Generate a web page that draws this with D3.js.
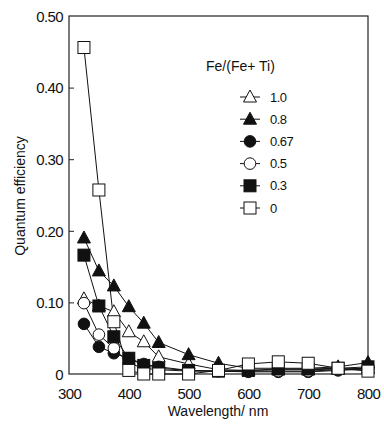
<!DOCTYPE html>
<html>
<head>
<meta charset="utf-8">
<script src="https://cdn.jsdelivr.net/npm/d3@7"></script>
<style>
  body { margin: 0; background: #fff; }
  text { font-family: "Liberation Sans", Arial, sans-serif; fill: #111; }
</style>
</head>
<body>
<script>
// wavelengths (nm)
var wavelengths = [325, 350, 375, 400, 425, 450, 500, 550, 600, 650, 700, 750, 800];

// quantum efficiency per Fe/(Fe+Ti) ratio
var qe10  = [0.105, 0.095, 0.087, 0.059, 0.045, 0.024, 0.014, 0.006, 0.005, 0.006, 0.006, 0.007, 0.008];
var qe08  = [0.190, 0.144, 0.123, 0.094, 0.071, 0.044, 0.027, 0.015, 0.008, 0.008, 0.008, 0.010, 0.016];
var qe067 = [0.070, 0.038, 0.029, 0.022, 0.014, 0.010, 0.005, 0.004, 0.003, 0.003, 0.003, 0.005, 0.007];
var qe05  = [0.099, 0.055, 0.036, 0.015, 0.008, 0.006, 0.004, 0.004, 0.004, 0.004, 0.004, 0.006, 0.008];
var qe03  = [0.166, 0.095, 0.052, 0.022, 0.012, 0.008, 0.005, 0.004, 0.005, 0.007, 0.007, 0.008, 0.010];
var qe0   = [0.456, 0.257, 0.073, 0.005, 0.000, 0.000, 0.000, 0.005, 0.014, 0.017, 0.015, 0.008, 0.004];

var seriesNames = ["1.0", "0.8", "0.67", "0.5", "0.3", "0"];
var seriesValues = [qe10, qe08, qe067, qe05, qe03, qe0];
var seriesShapes = ["triangle", "triangle", "circle", "circle", "square", "square"];
var seriesFilled = [false, true, true, false, true, false];

var yTicks = [0, 0.10, 0.20, 0.30, 0.40, 0.50];
var xTicks = [300, 400, 500, 600, 700, 800];

var svg = d3.select("body")
  .append("svg")
    .attr("width", 384)
    .attr("height", 427);

var plotLeft = 69, plotRight = 368, plotTop = 16, plotBottom = 374;

var x = d3.scaleLinear().domain([300, 800]).range([plotLeft, plotRight]);
var y = d3.scaleLinear().domain([0, 0.5]).range([plotBottom, plotTop]);

// frame
svg.append("rect")
  .attr("x", plotLeft).attr("y", plotTop)
  .attr("width", plotRight - plotLeft).attr("height", plotBottom - plotTop)
  .attr("fill", "none").attr("stroke", "#222").attr("stroke-width", 1.2);

// y axis (ticks pointing inward)
var yAxis = svg.append("g")
  .attr("transform", "translate(" + plotLeft + ",0)")
  .call(d3.axisLeft(y).tickValues(yTicks).tickSize(-5).tickPadding(12)
    .tickFormat(function(d) { return d === 0 ? "0" : d3.format(".2f")(d); }));
yAxis.select(".domain").remove();
yAxis.selectAll(".tick line").attr("stroke", "#222");
yAxis.selectAll(".tick text")
  .attr("x", -6)
  .style("font-size", "15px").style("letter-spacing", "-0.6px")
  .attr("dy", "0.35em");
yAxis.selectAll(".tick").filter(function(d) { return d === 0 || d === 0.5; })
  .select("line").remove();

// x axis
var xAxis = svg.append("g")
  .attr("transform", "translate(0," + plotBottom + ")")
  .call(d3.axisBottom(x).tickValues(xTicks).tickSize(0).tickPadding(14));
xAxis.select(".domain").remove();
xAxis.selectAll(".tick text")
  .style("font-size", "15px").style("letter-spacing", "-0.6px")
  .attr("dy", "0.71em");

// axis titles
svg.append("text")
  .attr("x", 218).attr("y", 416)
  .attr("text-anchor", "middle")
  .style("font-size", "14px")
  .text("Wavelength/ nm");

svg.append("text")
  .attr("transform", "translate(25,196) rotate(-90)")
  .attr("text-anchor", "middle")
  .style("font-size", "14px")
  .text("Quantum efficiency");

function drawMarker(g, shape, filled, cx, cy) {
  var fill = filled ? "#111" : "#fff";
  if (shape === "square") {
    g.append("rect")
      .attr("x", cx - 6).attr("y", cy - 6)
      .attr("width", 12).attr("height", 12)
      .attr("fill", fill).attr("stroke", "#111").attr("stroke-width", 1);
  } else if (shape === "circle") {
    g.append("circle")
      .attr("cx", cx).attr("cy", cy).attr("r", 5.8)
      .attr("fill", fill).attr("stroke", "#111").attr("stroke-width", 1);
  } else {
    g.append("path")
      .attr("d", "M" + cx + "," + (cy - 7) + "L" + (cx + 6.5) + "," + (cy + 5) + "L" + (cx - 6.5) + "," + (cy + 5) + "Z")
      .attr("fill", fill).attr("stroke", "#111").attr("stroke-width", 1);
  }
}

var line = d3.line()
  .x(function(d) { return x(d[0]); })
  .y(function(d) { return y(d[1]); });

// lines first, then markers
seriesValues.forEach(function(vals) {
  var pts = wavelengths.map(function(w, i) { return [w, vals[i]]; });
  svg.append("path")
    .attr("d", line(pts))
    .attr("fill", "none").attr("stroke", "#111").attr("stroke-width", 1);
});

seriesValues.forEach(function(vals, s) {
  var g = svg.append("g");
  wavelengths.forEach(function(w, i) {
    drawMarker(g, seriesShapes[s], seriesFilled[s], x(w), y(vals[i]));
  });
});

// legend
svg.append("text")
  .attr("x", 206).attr("y", 71)
  .style("font-size", "14px")
  .text("Fe/(Fe+ Ti)");

seriesNames.forEach(function(name, s) {
  var ly = 97 + s * 22.2;
  var g = svg.append("g");
  g.append("line")
    .attr("x1", 240).attr("x2", 260)
    .attr("y1", ly).attr("y2", ly)
    .attr("stroke", "#111").attr("stroke-width", 1);
  drawMarker(g, seriesShapes[s], seriesFilled[s], 250, ly);
  g.append("text")
    .attr("x", 270).attr("y", ly)
    .attr("dy", "0.35em")
    .style("font-size", "13px").style("letter-spacing", "-0.5px")
    .text(name);
});
</script>
</body>
</html>
